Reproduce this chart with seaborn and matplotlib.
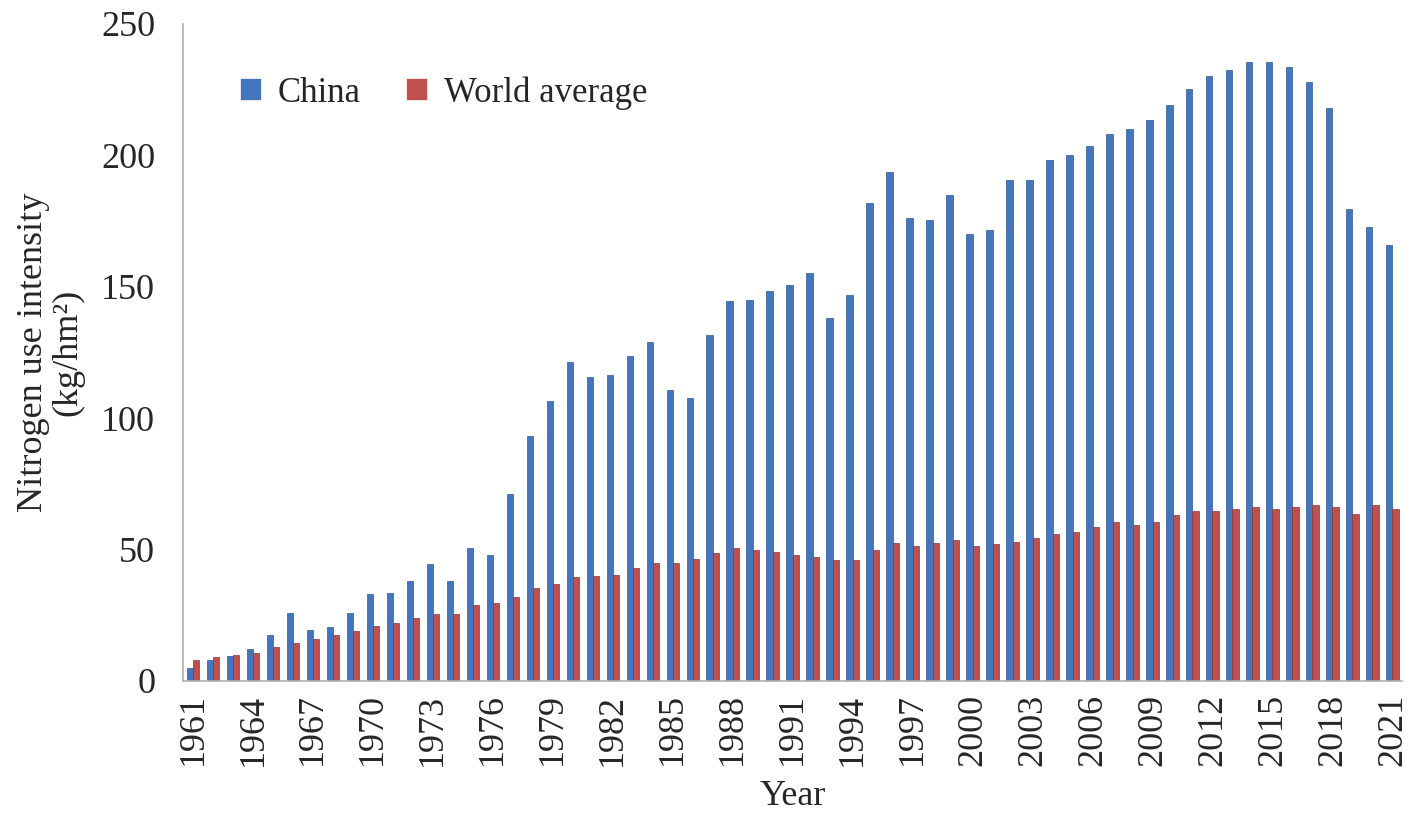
import numpy as np
import pandas as pd
import matplotlib
matplotlib.use("Agg")
import matplotlib.pyplot as plt
import seaborn as sns

# Data (kg/hm2)
years = list(range(1961, 2022))
china = [5, 8, 9.5, 12, 17.5, 26, 19.5, 20.5, 26, 33,
         33.5, 38, 44.5, 38, 50.5, 48, 71, 93, 106.5, 121.5,
         115.5, 116.5, 123.5, 129, 110.5, 107.5, 131.5, 144.5, 145, 148.5,
         150.5, 155, 138, 147, 182, 193.5, 176, 175.5, 185, 170,
         171.5, 190.5, 190.5, 198, 200, 203.5, 208, 210, 213.5, 219,
         225, 230, 232.5, 235.5, 235.5, 233.5, 228, 218, 179.5, 172.5,
         166]
world = [8, 9, 10, 10.5, 13, 14.5, 16, 17.5, 19, 21,
         22, 24, 25.5, 25.5, 29, 29.5, 32, 35.5, 37, 39.5,
         40, 40.5, 43, 45, 45, 46.5, 48.5, 50.5, 50, 49,
         48, 47, 46, 46, 50, 52.5, 51.5, 52.5, 53.5, 51.5,
         52, 53, 54.5, 56, 56.5, 58.5, 60.5, 59.5, 60.5, 63,
         64.5, 64.5, 65.5, 66, 65.5, 66, 67, 66, 63.5, 67,
         65.5]
series_names = ["China", "World average"]
colors = ["#4575BD", "#C0504D"]

df = pd.DataFrame({
    "Year": [str(y) for y in years] * 2,
    "value": china + world,
    "series": [series_names[0]] * len(years) + [series_names[1]] * len(years),
})

sns.set_style("white")
plt.rcParams["font.family"] = ["Liberation Serif", "DejaVu Serif"]
fs = 26

fig = plt.figure(figsize=(14.18, 8.33), dpi=100)
ax = fig.add_axes([0.129, 0.1825, 0.860, 0.789])

sns.barplot(data=df, x="Year", y="value", hue="series", palette=colors,
            width=0.62, linewidth=0.5, saturation=1, ax=ax)
for bar_cont, c in zip(ax.containers, ["#2d5a96", "#8f3431"]):
    for b in bar_cont:
        b.set_edgecolor(c)

ax.set_ylim(0, 250)
ax.set_yticks(range(0, 251, 50))
ax.set_xlim(-0.5, len(years) - 0.5)
ax.set_xticks(range(0, len(years), 3))
ax.set_xticklabels([str(y) for y in years[::3]], rotation=90)
ax.set_xticks(np.arange(-0.5, len(years), 1), minor=True)
ax.tick_params(axis="x", which="major", length=0, labelsize=fs, pad=9)
ax.tick_params(axis="x", which="minor", length=6, color="#b0b0b0", width=1)
ax.tick_params(axis="y", length=6, color="#b0b0b0", labelsize=fs, pad=14)

for s in ["top", "right"]:
    ax.spines[s].set_visible(False)
for s in ["left", "bottom"]:
    ax.spines[s].set_color("#b0b0b0")
    ax.spines[s].set_linewidth(1.2)

ax.set_xlabel("Year", fontsize=fs, labelpad=10)
ax.set_ylabel("Nitrogen use intensity\n(kg/hm²)", fontsize=fs, labelpad=12,
              linespacing=1.05)

ax.legend(title=None, loc="upper left", ncol=2, frameon=False, fontsize=25,
          bbox_to_anchor=(0.021, 0.968), handlelength=0.6, handleheight=0.6,
          columnspacing=1.3, handletextpad=0.5)

fig.savefig("out.png", dpi=100)
